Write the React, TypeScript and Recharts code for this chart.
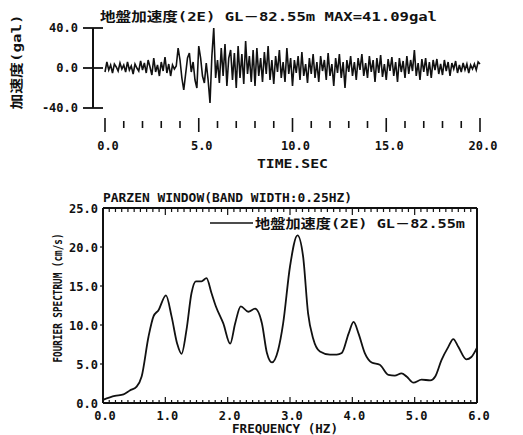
import { Line, LineChart, XAxis, YAxis } from "recharts";

// acceleration record, one value every 0.1 s (gal)
const accelStep = 0.1;
const accel = [
  -4, 6, -2, 3, -5, 4, 1, -3, 5, -1,
  3, -4, 6, -2, 2, -6, 4, 0, -3, 7,
  -2, 5, -5, 8, 1, -7, 10, -4, 3, -8,
  6, -3, 11, -5, 4, -8, 3, -1, 2, 20,
  8, -10, -22, -6, 10, 15, -4, 6, -12, -20,
  22, 10, -8, -15, 5, -12, -35, 12, 40, -10,
  8, -15, 20, -8, 24, -18, 10, 18, -12, 15,
  -20, 22, -10, 14, -16, 27, -6, 12, -14, 18,
  -18, 20, -8, 10, -14, 16, -6, 22, -12, 8,
  -16, 12, -4, 18, -10, 6, -14, 20, -6, 10,
  -18, 8, -5, 12, -12, 16, -8, 4, -15, 10,
  -6, 14, -10, 6, -14, 12, -3, 8, -12, 15,
  -8, 4, -18, 10, -5, 14, -10, 6, -20, 8,
  -4, 12, -8, 6, -12, 10, -2, 14, -8, 5,
  -10, 12, -4, 8, -14, 10, -5, 13, -9, 4,
  -12, 9, -3, 11, -8, 6, -14, 10, -4, 7,
  -10, 12, -6, 8, -3, 18, -8, 5, -12, 9,
  -4, 10, -8, 6, -10, 8, -2, 9, -6, 4,
  -7, 8, -3, 6, -8, 5, -1, 7, -5, 3,
  -4, 5, -2, 4, -5, 3, -1, 4, -2, 6,
  4,
];

const freqHz = [
  0, 0.19, 0.33, 0.43, 0.54, 0.62, 0.73, 0.81, 0.89, 1.01, 1.1, 1.19, 1.26,
  1.34, 1.42, 1.49, 1.58, 1.66, 1.74, 1.81, 1.93, 2.04, 2.12, 2.21, 2.33,
  2.44, 2.55, 2.63, 2.71, 2.81, 2.89, 3.0, 3.12, 3.21, 3.29, 3.37, 3.48,
  3.64, 3.75, 3.83, 3.94, 4.02, 4.1, 4.2, 4.31, 4.44, 4.58, 4.68, 4.79,
  4.87, 4.98, 5.11, 5.25, 5.33, 5.43, 5.54, 5.62, 5.7, 5.83, 5.91, 6.0,
];
const fourier = [
  0.4, 0.9, 1.1, 1.6, 2.1, 3.4, 8.5, 11.1, 11.9, 13.8, 11.1, 7.6, 6.3,
  9.4, 14.1, 15.6, 15.6, 16.0, 14.1, 12.4, 10.2, 7.6, 10.2, 12.4, 11.7,
  12.1, 10.2, 6.4, 5.2, 6.8, 10.2, 17.5, 21.5, 18.8, 11.5, 8.3, 6.6,
  6.2, 6.2, 6.4, 8.9, 10.4, 8.9, 6.4, 5.2, 4.9, 3.6, 3.5, 3.8,
  3.4, 2.6, 3.0, 2.9, 3.4, 5.5, 7.2, 8.2, 7.2, 5.6, 5.9, 7.1,
];

const timeTicks = Array.from({ length: 21 }, (_, i) => i);
const accelTicks = [-40, 0, 40];
const freqTicks = Array.from({ length: 61 }, (_, i) => i / 10);
const specTicks = [0, 5, 10, 15, 20, 25];
const specRightTicks = [5, 10, 15, 20];

const accelData = accel.map((a, i) => ({ t: +(i * accelStep).toFixed(2), a }));
const specData = freqHz.map((f, i) => ({ f, s: fourier[i] }));

const FONT = "'DejaVu Sans Mono', 'Noto Sans CJK JP', monospace";
const INK = "#111";

const txt = (size: number) => ({
  fontFamily: FONT,
  fontSize: size,
  fontWeight: 700,
  fill: INK,
});

function TimeTick({ x, y, payload }: any) {
  const v = payload.value;
  const major = v % 5 === 0;
  return (
    <g>
      <line
        stroke={INK}
        strokeWidth={1.6}
        x1={x}
        x2={x}
        y1={y + (major ? 10 : 13)}
        y2={y + (major ? 24 : 20)}
      />
      {major && (
        <text {...txt(12)} textAnchor="middle" x={x + 3} y={y + 42}>
          {v.toFixed(1)}
        </text>
      )}
    </g>
  );
}

function AccelTick({ x, y, payload }: any) {
  return (
    <g>
      <line stroke={INK} strokeWidth={1.8} x1={x - 10} x2={x + 10} y1={y} y2={y} />
      <text {...txt(12)} textAnchor="end" x={x - 15} y={y + 4}>
        {payload.value.toFixed(1)}
      </text>
    </g>
  );
}

function FreqTick({ x, y, payload }: any) {
  const v = payload.value;
  const major = Math.abs(v - Math.round(v)) < 1e-6;
  return (
    <g>
      <line stroke={INK} strokeWidth={1.2} x1={x} x2={x} y1={y} y2={y - (major ? 6 : 3)} />
      {major && (
        <text {...txt(12)} textAnchor="middle" x={x + 2} y={y + 17}>
          {v.toFixed(1)}
        </text>
      )}
    </g>
  );
}

function FreqTopTick({ x, y, payload }: any) {
  const v = payload.value;
  const major = Math.abs(v - Math.round(v)) < 1e-6;
  return (
    <line stroke={INK} strokeWidth={1.2} x1={x} x2={x} y1={y} y2={y + (major ? 7 : 4)} />
  );
}

function SpecTick({ x, y, payload }: any) {
  const v = payload.value;
  return (
    <g>
      {v > 0 && v < 25 && (
        <line stroke={INK} strokeWidth={1.2} x1={x - 3} x2={x} y1={y} y2={y} />
      )}
      <text {...txt(12)} textAnchor="end" x={x - 5} y={y + 5}>
        {v.toFixed(1)}
      </text>
    </g>
  );
}

function SpecRightTick({ x, y }: any) {
  return <line stroke={INK} strokeWidth={1.2} x1={x} x2={x - 6} y1={y} y2={y} />;
}

export default function App() {
  return (
    <div style={{ position: "relative", width: 523, height: 435, background: "#fff" }}>
      <style>{"body{margin:0}"}</style>

      <div style={{ position: "absolute", left: 0, top: 0 }}>
        <LineChart
          data={accelData}
          height={175}
          margin={{ bottom: 7, left: 0, right: 43, top: 28 }}
          width={523}
        >
          <XAxis
            axisLine={false}
            dataKey="t"
            domain={[-0.64, 20]}
            height={60}
            interval={0}
            tick={<TimeTick />}
            tickLine={false}
            tickMargin={0}
            tickSize={0}
            ticks={timeTicks}
            type="number"
          />
          <YAxis
            axisLine={{ stroke: INK, strokeWidth: 2 }}
            domain={[-40, 40]}
            interval={0}
            tick={<AccelTick />}
            tickLine={false}
            tickMargin={0}
            tickSize={0}
            ticks={accelTicks}
            type="number"
            width={93}
          />
          <Line
            dataKey="a"
            dot={false}
            isAnimationActive={false}
            stroke={INK}
            strokeWidth={1.6}
            type="linear"
          />
        </LineChart>
      </div>

      <div style={{ position: "absolute", left: 0, top: 180 }}>
        <LineChart
          data={specData}
          height={255}
          margin={{ bottom: 2, left: 0, right: 16, top: 8 }}
          width={523}
        >
          <XAxis
            axisLine={{ stroke: INK, strokeWidth: 2 }}
            dataKey="f"
            domain={[0, 6]}
            height={30}
            interval={0}
            orientation="bottom"
            tick={<FreqTick />}
            tickLine={false}
            tickMargin={0}
            tickSize={0}
            ticks={freqTicks}
            type="number"
            xAxisId="bottom"
          />
          <XAxis
            axisLine={{ stroke: INK, strokeWidth: 2 }}
            dataKey="f"
            domain={[0, 6]}
            height={20}
            interval={0}
            orientation="top"
            tick={<FreqTopTick />}
            tickLine={false}
            tickMargin={0}
            tickSize={0}
            ticks={freqTicks}
            type="number"
            xAxisId="top"
          />
          <YAxis
            axisLine={{ stroke: INK, strokeWidth: 2 }}
            domain={[0, 25]}
            interval={0}
            tick={<SpecTick />}
            tickLine={false}
            tickMargin={0}
            tickSize={0}
            ticks={specTicks}
            type="number"
            width={103}
            yAxisId="left"
          />
          <YAxis
            axisLine={{ stroke: INK, strokeWidth: 2 }}
            domain={[0, 25]}
            interval={0}
            orientation="right"
            tick={<SpecRightTick />}
            tickLine={false}
            tickMargin={0}
            tickSize={0}
            ticks={specRightTicks}
            type="number"
            width={30}
            yAxisId="right"
          />
          <Line
            dataKey="s"
            dot={false}
            isAnimationActive={false}
            stroke={INK}
            strokeWidth={1.8}
            type="monotone"
            xAxisId="bottom"
            yAxisId="left"
          />
        </LineChart>
      </div>

      <svg
        height={435}
        style={{ left: 0, pointerEvents: "none", position: "absolute", top: 0 }}
        width={523}
      >
        <text {...txt(13)} lengthAdjust="spacingAndGlyphs" textLength={337} x={100} y={21}>
          地盤加速度(2E) GL－82.55m MAX=41.09gal
        </text>
        <text
          {...txt(13)}
          lengthAdjust="spacingAndGlyphs"
          textAnchor="middle"
          textLength={95}
          transform="translate(21 62) rotate(-90)"
          x={0}
          y={0}
        >
          加速度(gal)
        </text>
        <text {...txt(13)} lengthAdjust="spacingAndGlyphs" textLength={71} x={257} y={168}>
          TIME.SEC
        </text>
        <text {...txt(12)} lengthAdjust="spacingAndGlyphs" textLength={249} x={103} y={202}>
          PARZEN WINDOW(BAND WIDTH:0.25HZ)
        </text>
        <text {...txt(12)} lengthAdjust="spacingAndGlyphs" textLength={106} x={232} y={433}>
          FREQUENCY (HZ)
        </text>
        <text
          {...txt(13)}
          lengthAdjust="spacingAndGlyphs"
          textAnchor="middle"
          textLength={129}
          transform="translate(62 298) rotate(-90)"
          x={0}
          y={0}
        >
          FOURIER SPECTRUM (cm/s)
        </text>
        <line stroke={INK} strokeWidth={1.5} x1={210} x2={253} y1={223} y2={223} />
        <text {...txt(13)} lengthAdjust="spacingAndGlyphs" textLength={210} x={255} y={228}>
          地盤加速度(2E) GL－82.55m
        </text>
      </svg>
    </div>
  );
}
